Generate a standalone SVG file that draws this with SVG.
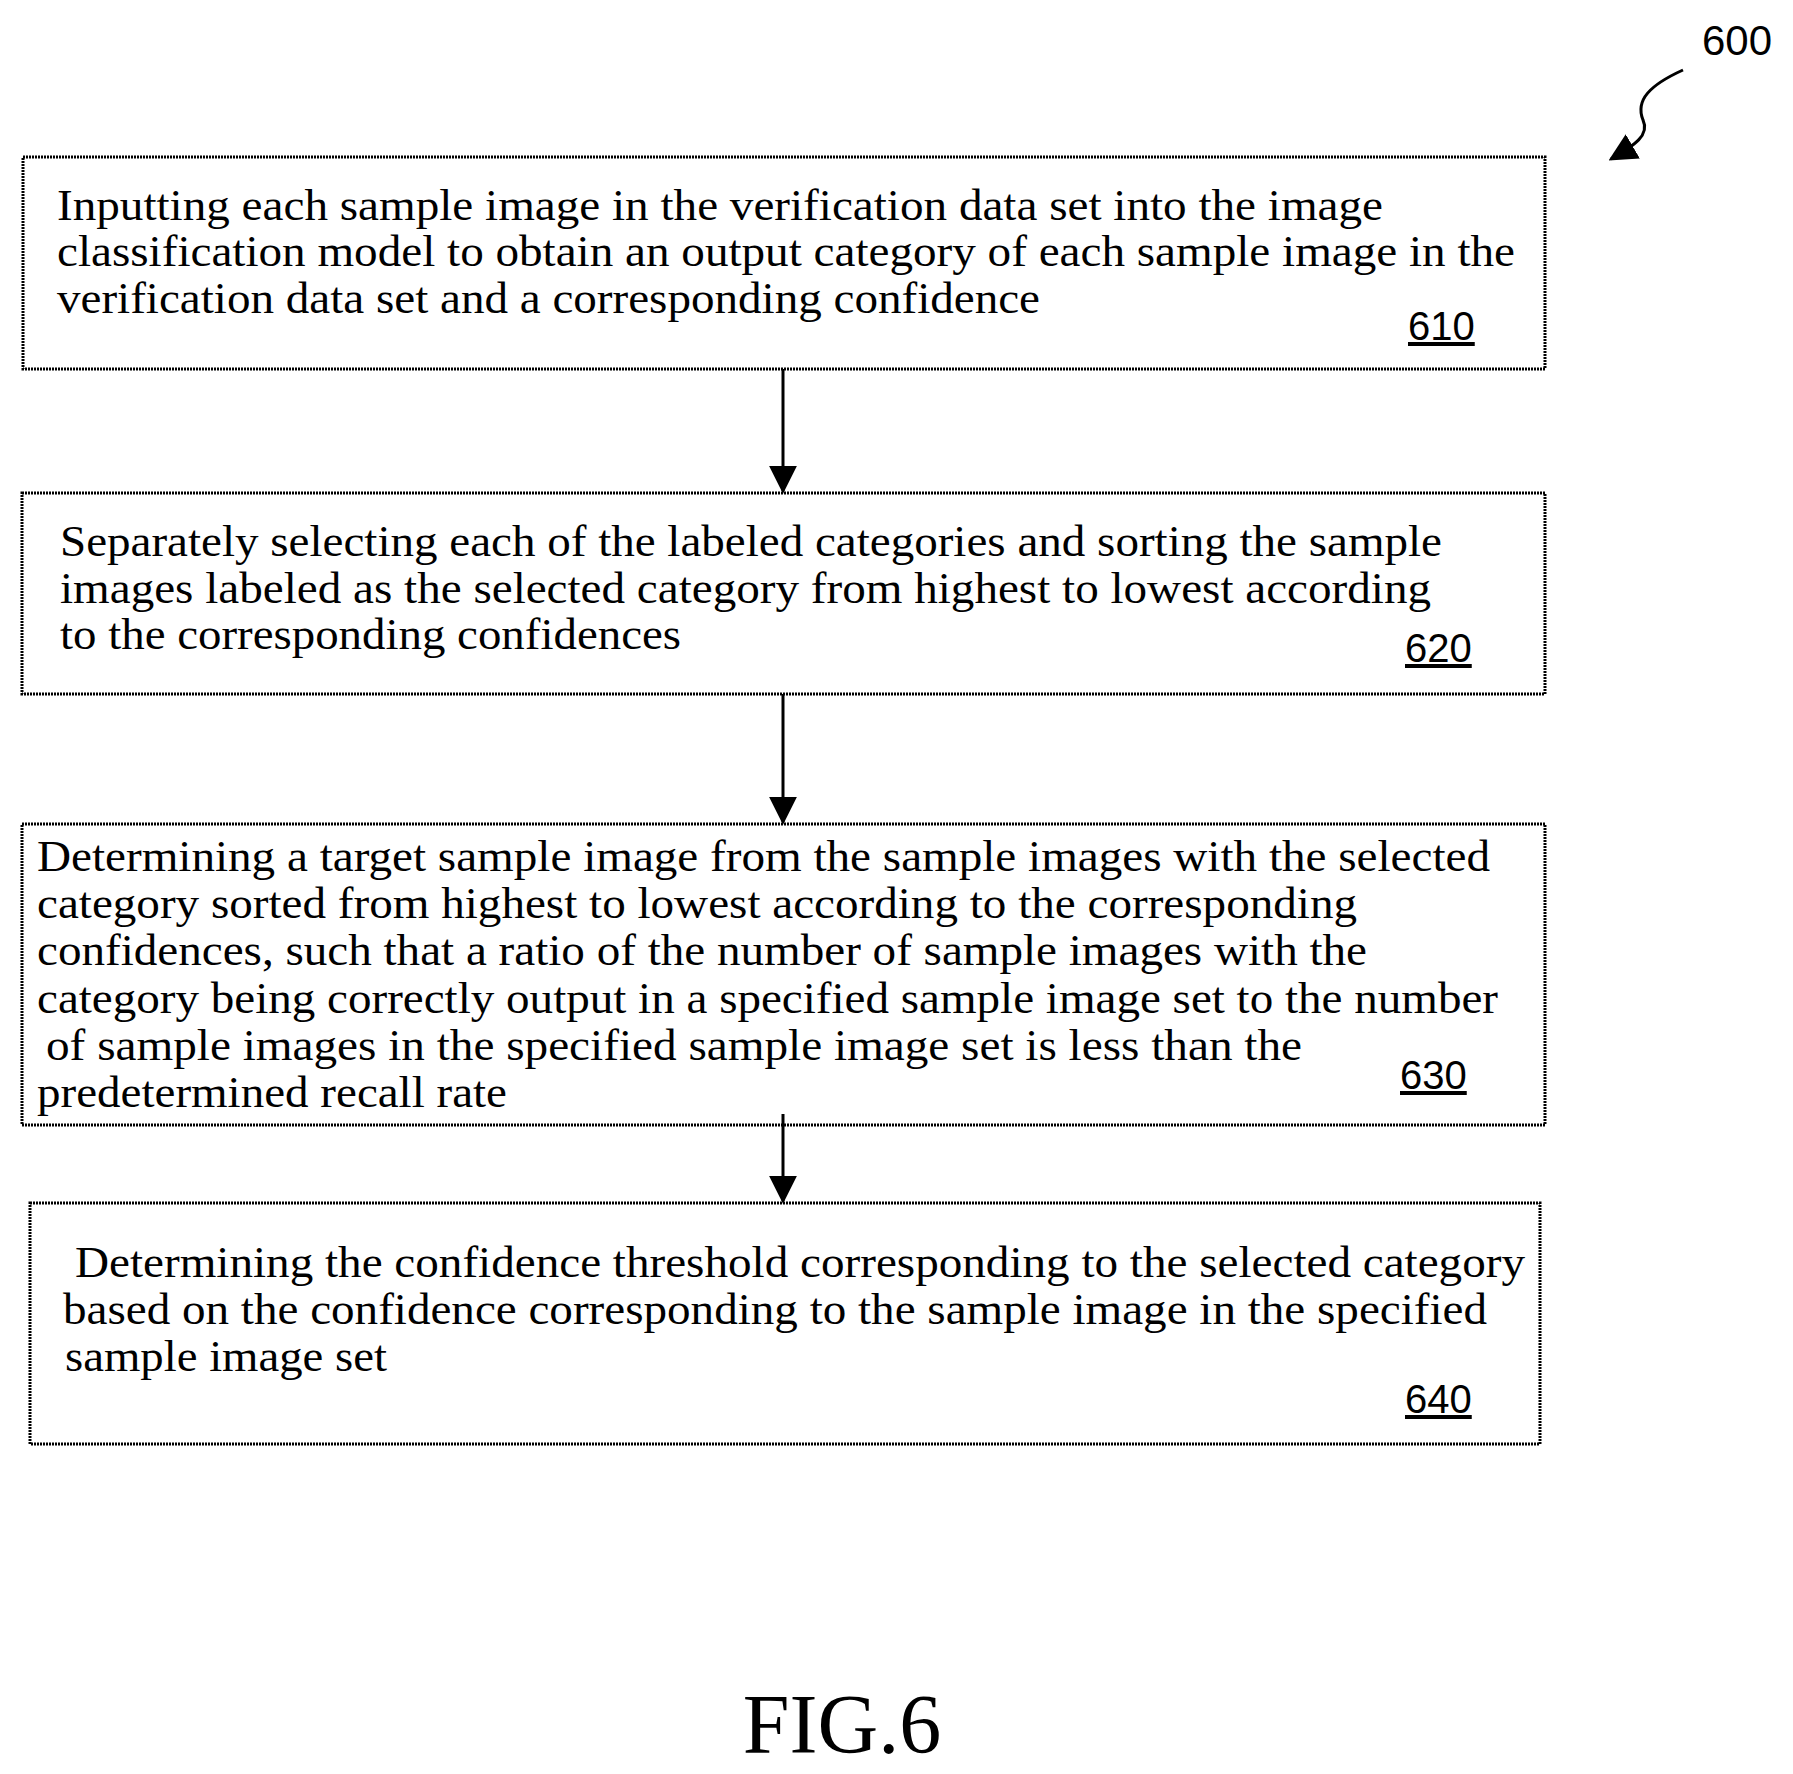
<svg xmlns="http://www.w3.org/2000/svg" width="1793" height="1774" viewBox="0 0 1793 1774">
<style>
.b{fill:none;stroke:#000;stroke-width:3;stroke-dasharray:2 1}
.t{font-family:"Liberation Serif",serif;font-size:44px;fill:#000}
.n{font-family:"Liberation Sans",sans-serif;font-size:40px;fill:#000;text-decoration:underline}
.c{stroke:#000;stroke-width:3;fill:none}
</style>
<defs>
<marker id="ah" viewBox="0 0 10 10" refX="9" refY="5" markerWidth="28" markerHeight="28" orient="auto" markerUnits="userSpaceOnUse"><path d="M0,0 L10,5 L0,10 Z" fill="#000"/></marker></defs>
<g id="n610"><rect class="b" x="23" y="157" width="1522" height="212"/>
<text class="t" x="57" y="220" textLength="1326" lengthAdjust="spacingAndGlyphs">Inputting each sample image in the verification data set into the image</text>
<text class="t" x="57" y="266" textLength="1458" lengthAdjust="spacingAndGlyphs">classification model to obtain an output category of each sample image in the</text>
<text class="t" x="57" y="313" textLength="983" lengthAdjust="spacingAndGlyphs">verification data set and a corresponding confidence</text>
<text class="n" x="1408" y="340">610</text></g>
<g id="n620"><rect class="b" x="22" y="493" width="1523" height="201"/>
<text class="t" x="60" y="556" textLength="1382" lengthAdjust="spacingAndGlyphs">Separately selecting each of the labeled categories and sorting the sample</text>
<text class="t" x="60" y="603" textLength="1371" lengthAdjust="spacingAndGlyphs">images labeled as the selected category from highest to lowest according</text>
<text class="t" x="60" y="649" textLength="621" lengthAdjust="spacingAndGlyphs">to the corresponding confidences</text>
<text class="n" x="1405" y="662">620</text></g>
<g id="n630"><rect class="b" x="22" y="824" width="1523" height="301"/>
<text class="t" x="37" y="871" textLength="1453" lengthAdjust="spacingAndGlyphs">Determining a target sample image from the sample images with the selected</text>
<text class="t" x="37" y="918" textLength="1320" lengthAdjust="spacingAndGlyphs">category sorted from highest to lowest according to the corresponding</text>
<text class="t" x="37" y="965" textLength="1330" lengthAdjust="spacingAndGlyphs">confidences, such that a ratio of the number of sample images with the</text>
<text class="t" x="37" y="1013" textLength="1461" lengthAdjust="spacingAndGlyphs">category being correctly output in a specified sample image set to the number</text>
<text class="t" x="46" y="1060" textLength="1256" lengthAdjust="spacingAndGlyphs">of sample images in the specified sample image set is less than the</text>
<text class="t" x="37" y="1107" textLength="470" lengthAdjust="spacingAndGlyphs">predetermined recall rate</text>
<text class="n" x="1400" y="1089">630</text></g>
<g id="n640"><rect class="b" x="30" y="1203" width="1510" height="241"/>
<text class="t" x="75" y="1277" textLength="1450" lengthAdjust="spacingAndGlyphs">Determining the confidence threshold corresponding to the selected category</text>
<text class="t" x="63" y="1324" textLength="1424" lengthAdjust="spacingAndGlyphs">based on the confidence corresponding to the sample image in the specified</text>
<text class="t" x="65" y="1371" textLength="322" lengthAdjust="spacingAndGlyphs">sample image set</text>
<text class="n" x="1405" y="1413">640</text></g>
<g id="connectors">
<line class="c" x1="783" y1="369" x2="783" y2="491" marker-end="url(#ah)"/>
<line class="c" x1="783" y1="694" x2="783" y2="822" marker-end="url(#ah)"/>
<line class="c" x1="783" y1="1114" x2="783" y2="1201" marker-end="url(#ah)"/>
<path class="c" d="M1683,70 C1650,85 1635,100 1643,120 C1650,135 1635,145 1611,159" marker-end="url(#ah)"/>
</g>
<text x="1702" y="55" style="font-family:'Liberation Sans',sans-serif;font-size:42px">600</text>
<text x="842" y="1753" text-anchor="middle" style="font-family:'Liberation Serif',serif;font-size:84px">FIG.6</text>
</svg>
